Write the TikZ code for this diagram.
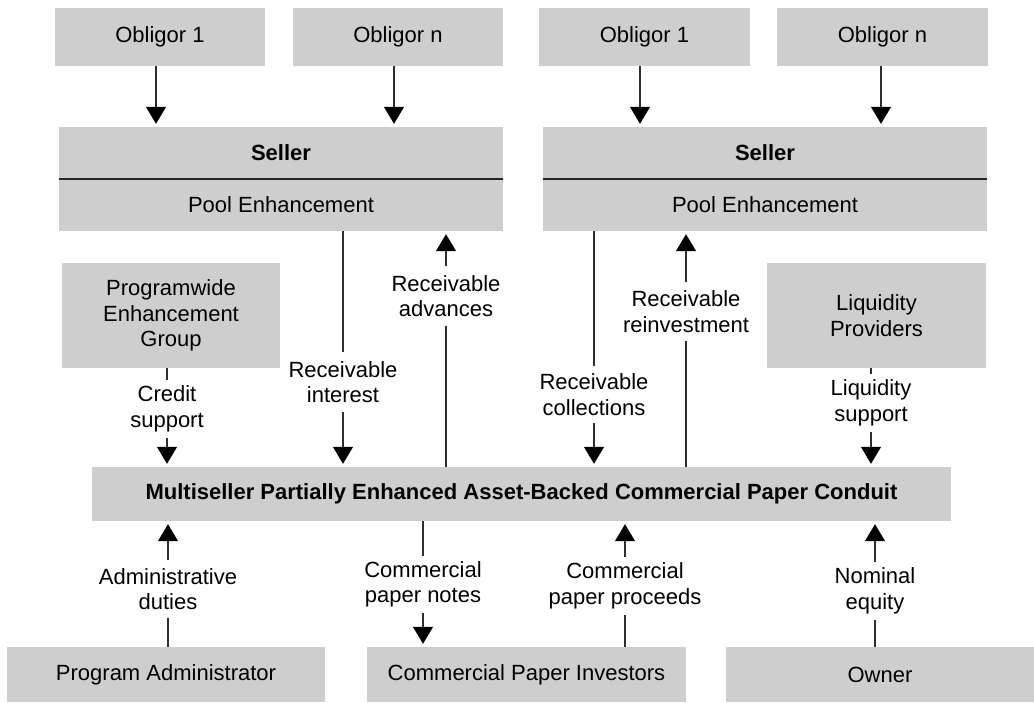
\documentclass[tikz,border=0pt]{standalone}
\usepackage{fontspec}
\setmainfont{Liberation Sans}
\usetikzlibrary{arrows.meta}
\definecolor{boxgray}{HTML}{CECECE}
\definecolor{linegray}{HTML}{2E2E2E}
\begin{document}
\begin{tikzpicture}[x=1pt,y=-1pt,
  box/.style={fill=boxgray,draw=none,inner sep=0pt,align=center,
    font=\fontsize{22}{25.5}\selectfont},
  lbl/.style={inner sep=0pt,align=center,font=\fontsize{22}{25.5}\selectfont},
  conn/.style={draw=linegray,line width=1.3pt},
  tip/.style={Triangle[width=20pt,length=17pt,fill=black,draw=black]},
  arr/.style={conn,-{Triangle[width=20pt,length=17pt,color=black]},shorten >=3pt},
  rarr/.style={conn,{Triangle[width=20pt,length=17pt,color=black]}-,shorten <=3pt}]
\useasboundingbox (0,0) rectangle (1034,703);
% top boxes
\node[box,minimum width=210pt,minimum height=58pt] (o1L) at (160,37) {Obligor 1};
\node[box,minimum width=210pt,minimum height=58pt] (onL) at (398,37) {Obligor n};
\node[box,minimum width=211pt,minimum height=58pt] (o1R) at (644.5,37) {Obligor 1};
\node[box,minimum width=211pt,minimum height=58pt] (onR) at (882.5,37) {Obligor n};
% sellers
\node[box,minimum width=444pt,minimum height=52pt] (sL) at (281,153) {\bfseries Seller};
\node[box,minimum width=444pt,minimum height=52pt] (pL) at (281,205) {Pool Enhancement};
\node[box,minimum width=444pt,minimum height=52pt] (sR) at (765,153) {\bfseries Seller};
\node[box,minimum width=444pt,minimum height=52pt] (pR) at (765,205) {Pool Enhancement};
\draw[draw=black!85,line width=1.5pt] (pL.north west) -- (pL.north east);
\draw[draw=black!85,line width=1.5pt] (pR.north west) -- (pR.north east);
% side boxes
\node[box,minimum width=218pt,minimum height=105pt] (pw) at (171,315.5) {Programwide\\Enhancement\\Group};
\node[box,minimum width=219pt,minimum height=105pt] (lp) at (876.5,315.5) {Liquidity\\Providers};
% conduit
\node[box,minimum width=859pt,minimum height=54pt] (cd) at (521.5,494) {\bfseries Multiseller Partially Enhanced Asset-Backed Commercial Paper Conduit};
% bottom boxes
\node[box,minimum width=318pt,minimum height=55pt] (pa) at (166,674.5) {Program Administrator};
\node[box,minimum width=319pt,minimum height=55pt] (cp) at (526.5,674.5) {Commercial Paper Investors};
\node[box,minimum width=308pt,minimum height=55pt] (ow) at (880,674.5) {Owner};
% x positions
\coordinate (x1) at (156,0);
\coordinate (x2) at (394,0);
\coordinate (x3) at (640,0);
\coordinate (x4) at (881,0);
% obligor arrows
\draw[arr] (o1L.south -| x1) -- (sL.north -| x1);
\draw[arr] (onL.south -| x2) -- (sL.north -| x2);
\draw[arr] (o1R.south -| x3) -- (sR.north -| x3);
\draw[arr] (onR.south -| x4) -- (sR.north -| x4);
% labels
\node[lbl,minimum height=58pt] (lcs) at (167,409) {Credit\\support};
\node[lbl,minimum height=60pt] (lri) at (343,382) {Receivable\\interest};
\node[lbl,minimum height=59pt] (lra) at (446,296) {Receivable\\advances};
\node[lbl,minimum height=57pt] (lrc) at (594,394.5) {Receivable\\collections};
\node[lbl,minimum height=59pt] (lrr) at (686,311.5) {Receivable\\reinvestment};
\node[lbl,minimum height=58pt] (lls) at (871,403) {Liquidity\\support};
\node[lbl,minimum height=58pt] (lad) at (168,589) {Administrative\\duties};
\node[lbl,minimum height=57pt] (lcn) at (423,584.5) {Commercial\\paper notes};
\node[lbl,minimum height=58pt] (lcpp) at (625,586) {Commercial\\paper proceeds};
\node[lbl,minimum height=58pt] (lne) at (875,591) {Nominal\\equity};
% labelled connectors
\draw[conn] (pw.south -| lcs) -- (lcs.north);
\draw[arr] (lcs.south) -- (cd.north -| lcs);
\draw[conn] (pL.south -| lri) -- (lri.north);
\draw[arr] (lri.south) -- (cd.north -| lri);
\draw[rarr] (pL.south -| lra) -- (lra.north);
\draw[conn] (lra.south) -- (cd.north -| lra);
\draw[conn] (pR.south -| lrc) -- (lrc.north);
\draw[arr] (lrc.south) -- (cd.north -| lrc);
\draw[rarr] (pR.south -| lrr) -- (lrr.north);
\draw[conn] (lrr.south) -- (cd.north -| lrr);
\draw[conn] (lp.south -| lls) -- (lls.north);
\draw[arr] (lls.south) -- (cd.north -| lls);
\draw[rarr] (cd.south -| lad) -- (lad.north);
\draw[conn] (lad.south) -- (pa.north -| lad);
\draw[conn] (cd.south -| lcn) -- (lcn.north);
\draw[arr] (lcn.south) -- (cp.north -| lcn);
\draw[rarr] (cd.south -| lcpp) -- (lcpp.north);
\draw[conn] (lcpp.south) -- (cp.north -| lcpp);
\draw[rarr] (cd.south -| lne) -- (lne.north);
\draw[conn] (lne.south) -- (ow.north -| lne);
\end{tikzpicture}
\end{document}
